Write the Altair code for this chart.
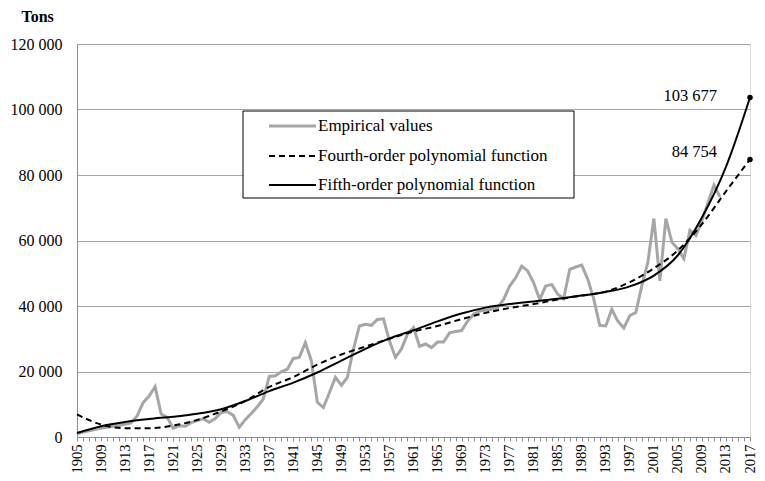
import altair as alt
import pandas as pd

# ---------------- data ----------------
emp_first_year = 1905
empirical = [
    1000, 1500, 1900, 2300, 2700, 3000, 3300, 3500, 3900, 4300,      # 1905-1914
    6400, 10500, 12500, 15400, 7000, 6000, 2700, 3400, 3300, 4400,   # 1915-1924
    5000, 5600, 4500, 5600, 7500, 7800, 6600, 3000, 5300, 7200,      # 1925-1934
    9200, 11600, 18500, 18700, 19900, 20700, 24000, 24300, 28800, 23300,  # 1935-1944
    10600, 9000, 13500, 18200, 15800, 18200, 26800, 33900, 34400, 34100,  # 1945-1954
    35900, 36100, 29300, 24300, 26900, 31400, 33400, 27700, 28400, 27300,  # 1955-1964
    29000, 29000, 31800, 32200, 32500, 35400, 37500, 38500, 38700, 39000,  # 1965-1974
    39500, 42000, 46100, 48600, 52200, 50700, 47100, 42000, 46100, 46600,  # 1975-1984
    43600, 42300, 51200, 51900, 52500, 48200, 42100, 34100, 33900, 39000,  # 1985-1994
    35400, 33300, 37100, 38000, 46200, 53300, 66700, 47700, 66700, 59500,  # 1995-2004
    57400, 54400, 63100, 61500, 66000, 71500, 76900, 73300,                # 2005-2012
]

fit_years = list(range(1905, 2018, 4))
fourth_order = [6900, 3800, 2700, 2700, 3500, 5200, 7800, 11000, 15300, 18300,
                22100, 25200, 27600, 30000, 32200, 33900, 36000, 37900, 39400, 40600,
                42000, 43200, 44400, 47300, 51500, 57000, 65000, 75000, 84754]
fifth_order = [1200, 3300, 4600, 5500, 6200, 7100, 8500, 11000, 14000, 16600,
               19700, 23300, 26900, 30100, 32600, 35300, 37700, 39500, 40600, 41400,
               42200, 43200, 44300, 46000, 49300, 55500, 67000, 82500, 103677]

series_names = ["Empirical values", "Fourth-order polynomial function",
                "Fifth-order polynomial function"]
y_ticks = [0, 20000, 40000, 60000, 80000, 100000, 120000]
x_first, x_last = 1905, 2017

# ---------------- frames ----------------
emp_df = pd.DataFrame({"year": list(range(emp_first_year, emp_first_year + len(empirical))),
                       "value": empirical})
f4_df = pd.DataFrame({"year": fit_years, "value": fourth_order})
f5_df = pd.DataFrame({"year": fit_years, "value": fifth_order})


def fmt(v):
    return f"{v:,}".replace(",", " ")


end5 = pd.DataFrame({"year": [fit_years[-1]], "value": [fifth_order[-1]],
                     "label": [fmt(fifth_order[-1])]})
end4 = pd.DataFrame({"year": [fit_years[-1]], "value": [fourth_order[-1]],
                     "label": [fmt(fourth_order[-1])]})

FONT = "Liberation Serif"
GRAY_AX = "#8c8c8c"
GRID = "#a6a6a6"
EMP_COLOR = "#a6a6a6"

x_enc = alt.X(
    "year:Q",
    scale=alt.Scale(domain=[x_first, x_last], nice=False, zero=False),
    axis=alt.Axis(
        values=list(range(x_first, x_last + 1)),
        labelExpr="(datum.value - 1905) % 4 == 0 ? '' + datum.value : ''",
        labelAngle=270, labelOverlap=False, labelPadding=3,
        tickSize=4, tickColor=GRAY_AX, domainColor=GRAY_AX, grid=False,
        title=None, labelFont=FONT, labelFontSize=14.5, labelColor="black",
    ),
)
y_enc = alt.Y(
    "value:Q",
    scale=alt.Scale(domain=[0, 120000], nice=False),
    axis=alt.Axis(
        values=y_ticks,
        labelExpr="replace(format(datum.value, ','), ',', ' ')",
        grid=True, gridColor=GRID, gridWidth=1, ticks=False, labelPadding=15,
        domainColor=GRAY_AX, labelFont=FONT, labelFontSize=16, labelColor="black",
        title="Tons", titleAngle=0, titleX=-56, titleY=-23, titleAlign="left",
        titleBaseline="alphabetic", titleFont=FONT, titleFontSize=16,
        titleFontWeight="bold", titleColor="black",
    ),
)

emp_line = alt.Chart(emp_df).mark_line(color=EMP_COLOR, strokeWidth=3).encode(x=x_enc, y=y_enc)
f4_line = alt.Chart(f4_df).mark_line(color="black", strokeWidth=2, strokeDash=[6, 4],
                                     interpolate="monotone").encode(x=x_enc, y=y_enc)
f5_line = alt.Chart(f5_df).mark_line(color="black", strokeWidth=2,
                                     interpolate="monotone").encode(x=x_enc, y=y_enc)

dots = alt.Chart(pd.concat([end5, end4])).mark_circle(size=30, color="black", opacity=1).encode(x=x_enc, y=y_enc)
lab5 = alt.Chart(end5).mark_text(align="right", baseline="middle", dx=-33, dy=-1,
                                 font=FONT, fontSize=16.5, color="black").encode(x=x_enc, y=y_enc, text="label:N")
lab4 = alt.Chart(end4).mark_text(align="right", baseline="middle", dx=-33, dy=-7,
                                 font=FONT, fontSize=16.5, color="black").encode(x=x_enc, y=y_enc, text="label:N")

# ---------------- legend (drawn box) ----------------
legend_box = alt.Chart(alt.Data(values=[{"k": 1}])).mark_rect(
    fill="white", stroke="black", strokeWidth=1
).encode(x=alt.value(166), x2=alt.value(497), y=alt.value(67), y2=alt.value(154))

row_y = [82, 112, 141]
styles = [
    dict(color=EMP_COLOR, strokeWidth=3),
    dict(color="black", strokeWidth=2, strokeDash=[6, 4]),
    dict(color="black", strokeWidth=2),
]
legend_layers = [legend_box]
for name, yy, st in zip(series_names, row_y, styles):
    d = pd.DataFrame({"label": [name]})
    legend_layers.append(
        alt.Chart(d).mark_rule(**st).encode(x=alt.value(192), x2=alt.value(239), y=alt.value(yy))
    )
    legend_layers.append(
        alt.Chart(d).mark_text(align="left", baseline="middle", font=FONT, fontSize=17,
                               color="black").encode(x=alt.value(241), y=alt.value(yy), text="label:N")
    )

chart = alt.layer(
    emp_line, f4_line, f5_line, dots, lab5, lab4, *legend_layers
).properties(
    width=673, height=393,
    autosize=alt.AutoSizeParams(type="none"),
    padding={"left": 69, "top": 36, "right": 7, "bottom": 36},
).configure_view(
    stroke="black", strokeWidth=1
).configure(background="white")

chart.save("out.html", embed_options={"renderer": "svg", "actions": False})
